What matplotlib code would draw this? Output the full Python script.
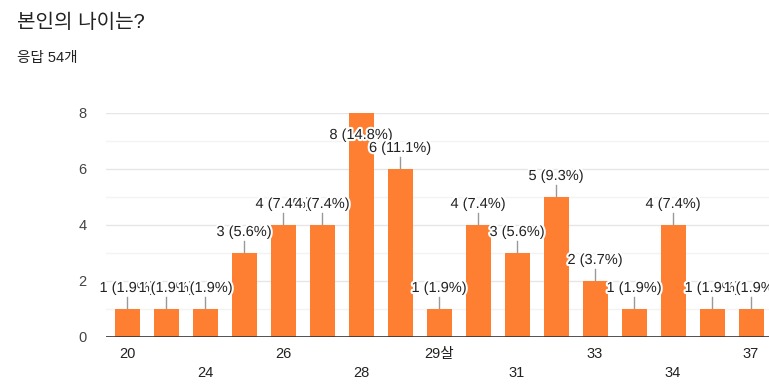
import matplotlib.pyplot as plt
import matplotlib.patheffects as pe
import matplotlib.transforms as mtrans
import numpy as np

plt.rcParams['font.family'] = ['Liberation Sans', 'Noto Sans CJK KR', 'DejaVu Sans']

# data
ages = ['20', '22', '24', '25', '26', '27', '28', '29', '29살', '30',
        '31', '32', '33', '33살', '34', '35', '37']
counts = [1, 1, 1, 3, 4, 4, 8, 6, 1, 4, 3, 5, 2, 1, 4, 1, 1]
total = 54
title = '본인의 나이는?'
subtitle = '응답 54개'

W, H = 769, 386
fig = plt.figure(figsize=(W / 100, H / 100), dpi=100)
# axes placed in pixel coords: x 106..769, y 113..337
ax = fig.add_axes([106 / W, (H - 337) / H, (769 - 106) / W, (337 - 113) / H])

x = np.arange(len(ages))
ax.bar(x, counts, width=0.64, color='#ff7f32', zorder=3)
ax.set_xlim(-0.54, 16.46)
ax.set_ylim(0, 8)

# grid lines
for v in range(1, 9):
    ax.axhline(v, color='#e6e6e6' if v % 2 == 0 else '#f3f3f3', lw=1, zorder=1)
ax.axhline(0, color='#333333', lw=1.2, zorder=4)

for s in ax.spines.values():
    s.set_visible(False)
ax.set_yticks([0, 2, 4, 6, 8])
ax.tick_params(axis='y', length=0, labelsize=10.5, labelcolor='#444444', pad=14)
ax.set_xticks([])

# x labels, every other one, alternating rows
for i, lab in enumerate(ages):
    if i % 2 == 1:
        continue
    row = (i // 2) % 2
    off = -17 if row == 0 else -36
    tr = mtrans.offset_copy(ax.transData, fig=fig, x=0, y=off, units='dots')
    ax.text(i, 0, lab, transform=tr, ha='center', va='center',
            fontsize=10.5, color='#222222', clip_on=False)

# value labels with leader lines
halo = [pe.withStroke(linewidth=3, foreground='white')]
for i, c in enumerate(counts):
    lab = '%d (%.1f%%)' % (c, c / total * 100)
    if c >= 8:
        tr = mtrans.offset_copy(ax.transData, fig=fig, x=0, y=-22, units='dots')
        ax.text(i, c, lab, transform=tr, ha='center', va='center', fontsize=10.5,
                color='#222222', path_effects=halo, zorder=6, clip_on=False)
        continue
    line_top = c + 12 / 28
    ax.plot([i, i], [c, line_top], color='#999999', lw=1, zorder=2, clip_on=False)
    tr = mtrans.offset_copy(ax.transData, fig=fig, x=0, y=21, units='dots')
    ax.text(i, c, lab, transform=tr, ha='center', va='center', fontsize=10.5,
            color='#222222', path_effects=halo, zorder=6, clip_on=False)

fig.text(17 / W, 1 - 22 / H, title, fontsize=14.5, color='#222222', va='center', ha='left')
fig.text(17 / W, 1 - 58 / H, subtitle, fontsize=10.5, color='#222222', va='center', ha='left')

fig.savefig('out.png', dpi=100)
